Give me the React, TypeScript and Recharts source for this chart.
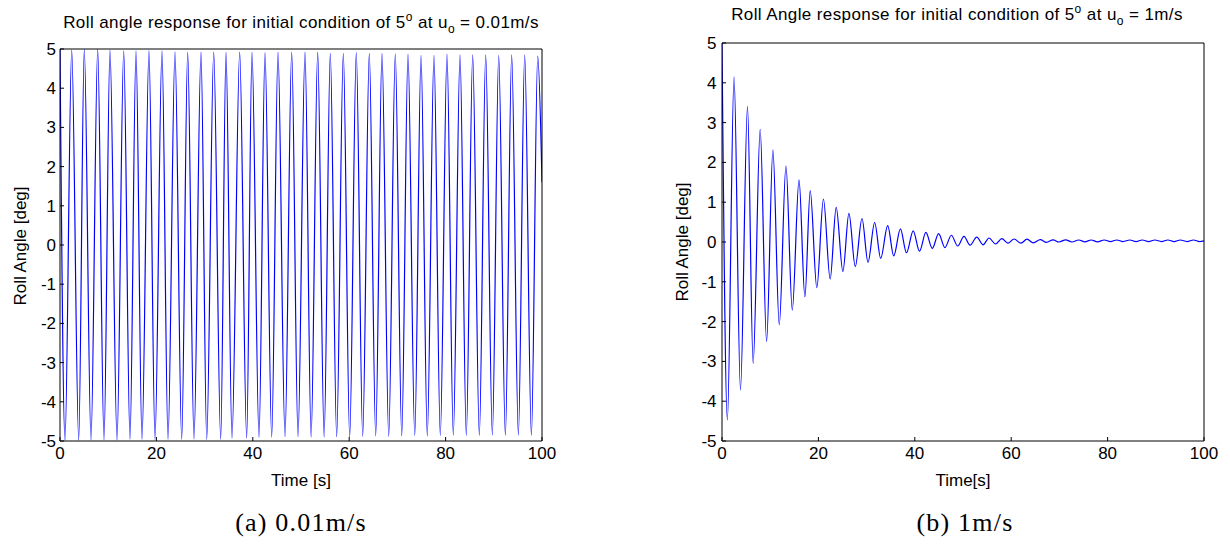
import React from 'react';
import { LineChart, Line, XAxis, YAxis } from 'recharts';

// ---- tick labels ----
const xTicks = [0, 20, 40, 60, 80, 100];
const yTicks = [-5, -4, -3, -2, -1, 0, 1, 2, 3, 4, 5];

// ---- (a) u0 = 0.01 m/s : extrema of the roll angle (time [s], angle [deg]) ----
const lowSpeedTimes = [
  0, 1.04, 2.43, 3.88, 5.04, 6.43, 7.82, 9.13, 10.37, 11.83,
  13.22, 14.52, 15.77, 17.01, 18.46, 19.71, 21.16, 22.41, 23.86, 25.25,
  26.49, 27.8, 29.25, 30.44, 31.89, 33.34, 34.44, 35.68, 37.28, 38.73,
  39.83, 41.29, 42.53, 43.92, 45.23, 46.68, 48.07, 49.38, 50.83, 52.1,
  53.46, 54.8, 56.08, 57.4, 58.78, 60.1, 61.47, 62.8, 64.17, 65.5,
  66.8, 68.2, 69.56, 70.9, 72.2, 73.6, 74.9, 76.2, 77.59, 78.9,
  80.29, 81.6, 82.99, 84.3, 85.62, 87.0, 88.32, 89.7, 91.02, 92.4,
  93.71, 95.1, 96.41, 97.8, 99.11, 100,
];
const lowSpeedAngles = [
  5, -4.98, 4.97, -4.98, 5.0, -4.98, 5.0, -4.98, 4.97, -4.98,
  4.95, -4.96, 4.95, -4.96, 4.96, -4.96, 4.95, -4.96, 4.93, -4.96,
  4.92, -4.95, 4.92, -4.96, 4.92, -4.96, 4.92, -4.93, 4.92, -4.93,
  4.92, -4.91, 4.91, -4.9, 4.92, -4.89, 4.92, -4.89, 4.92, -4.9,
  4.92, -4.9, 4.89, -4.89, 4.89, -4.9, 4.91, -4.88, 4.89, -4.87,
  4.89, -4.88, 4.87, -4.87, 4.87, -4.86, 4.84, -4.87, 4.84, -4.86,
  4.87, -4.85, 4.85, -4.86, 4.85, -4.86, 4.85, -4.85, 4.84, -4.86,
  4.85, -4.85, 4.85, -4.86, 4.82, 1.6,
];

// ---- (b) u0 = 1 m/s : extrema of the roll angle (time [s], angle [deg]) ----
const highSpeedTimes = [
  0, 1.12, 2.5, 3.83, 5.29, 6.46, 7.92, 9.25, 10.56, 11.88,
  13.27, 14.58, 15.98, 17.2, 18.3, 19.67, 21.04, 22.44, 23.69, 25.08,
  26.33, 27.65, 29.04, 30.29, 31.67, 32.92, 34.38, 35.63, 37.02, 38.27,
  39.67, 40.98, 42.3, 43.63, 44.94, 46.25, 47.58, 48.9, 50.2, 51.46,
  52.85, 54.17, 55.4, 56.75, 58.06, 59.31, 60.6, 62.02, 63.27, 64.58,
  66.04, 67.3, 68.7, 69.9, 71.3, 72.6, 74.0, 75.3, 76.6, 77.9,
  79.3, 80.6, 81.9, 83.2, 84.6, 85.9, 87.2, 88.5, 89.8, 91.2,
  92.5, 93.8, 95.1, 96.5, 97.8, 99.1, 100,
];
const highSpeedAngles = [
  5, -4.47, 4.15, -3.72, 3.41, -3.05, 2.83, -2.5, 2.31, -2.08,
  1.91, -1.71, 1.56, -1.38, 1.29, -1.15, 1.08, -0.93, 0.87, -0.74,
  0.72, -0.62, 0.59, -0.51, 0.49, -0.41, 0.41, -0.35, 0.33, -0.27,
  0.28, -0.23, 0.24, -0.16, 0.21, -0.14, 0.17, -0.1, 0.14, -0.08,
  0.12, -0.07, 0.1, -0.05, 0.085, -0.03, 0.075, -0.03, 0.07, -0.02,
  0.06, -0.01, 0.055, 0.0, 0.055, 0.0, 0.05, 0.005, 0.05, 0.005,
  0.05, 0.01, 0.05, 0.01, 0.05, 0.01, 0.05, 0.01, 0.05, 0.01,
  0.05, 0.01, 0.05, 0.01, 0.05, 0.01, 0.03,
];

const lowSpeedData = lowSpeedTimes.map((t, i) => ({ t, v: lowSpeedAngles[i] }));
const highSpeedData = highSpeedTimes.map((t, i) => ({ t, v: highSpeedAngles[i] }));

const SANS = '"Liberation Sans", Arial, Helvetica, sans-serif';
const SERIF = '"Liberation Serif", "Times New Roman", serif';
const tickStyle = { fontSize: 17, fill: '#000', fontFamily: SANS };
const axisLine = { stroke: '#000', strokeWidth: 1 };
const tickLine = { stroke: '#000', strokeWidth: 1 };

function axes(yMargin: number) {
  return [
    <XAxis
      key="xb"
      dataKey="t"
      type="number"
      domain={[0, 100]}
      ticks={xTicks}
      interval={0}
      height={1}
      tickSize={-4}
      tickMargin={10}
      axisLine={axisLine}
      tickLine={tickLine}
      tick={tickStyle}
      allowDataOverflow
    />,
    <XAxis
      key="xt"
      xAxisId="top"
      orientation="top"
      type="number"
      domain={[0, 100]}
      ticks={xTicks}
      interval={0}
      height={1}
      tickSize={-4}
      axisLine={axisLine}
      tickLine={tickLine}
      tick={false}
      allowDataOverflow
    />,
    <YAxis
      key="yl"
      type="number"
      domain={[-5, 5]}
      ticks={yTicks}
      interval={0}
      width={1}
      tickSize={-4}
      tickMargin={yMargin}
      axisLine={axisLine}
      tickLine={tickLine}
      tick={tickStyle}
      allowDataOverflow
    />,
    <YAxis
      key="yr"
      yAxisId="right"
      orientation="right"
      type="number"
      domain={[-5, 5]}
      ticks={yTicks}
      interval={0}
      width={1}
      tickSize={-4}
      axisLine={axisLine}
      tickLine={tickLine}
      tick={false}
      allowDataOverflow
    />,
  ];
}

export default function App() {
  return (
    <div style={{ position: 'absolute', left: 0, top: 0, width: 1230, height: 544, background: '#fff', overflow: 'hidden' }}>
      <div style={{ position: 'absolute', left: 0, top: 0 }}>
        <LineChart width={600} height={480} data={lowSpeedData} margin={{ top: 48, right: 57, bottom: 38, left: 59 }}>
          {axes(8)}
          <Line
            type="monotone"
            dataKey="v"
            stroke="#0000ff"
            strokeWidth={1.2}
            dot={false}
            isAnimationActive={false}
          />
        </LineChart>
      </div>
      <div style={{ position: 'absolute', left: 660, top: 0 }}>
        <LineChart width={570} height={480} data={highSpeedData} margin={{ top: 42, right: 25, bottom: 38, left: 61 }}>
          {axes(9.5)}
          <Line
            type="monotone"
            dataKey="v"
            stroke="#0000ff"
            strokeWidth={1.2}
            dot={false}
            isAnimationActive={false}
          />
        </LineChart>
      </div>
      <svg
        width={1230}
        height={544}
        style={{ position: 'absolute', left: 0, top: 0, pointerEvents: 'none' }}
      >
        <g fontFamily={SANS} fill="#000">
          <text x={301} y={28} fontSize={17} textAnchor="middle" letterSpacing={0.4}>
            Roll angle response for initial condition of 5
            <tspan fontSize={12} dy={-7}>o</tspan>
            <tspan dy={7}> at u</tspan>
            <tspan fontSize={12} dy={5}>o</tspan>
            <tspan dy={-5}> = 0.01m/s</tspan>
          </text>
          <text x={957} y={20} fontSize={17} textAnchor="middle" letterSpacing={0.4}>
            Roll Angle response for initial condition of 5
            <tspan fontSize={12} dy={-7}>o</tspan>
            <tspan dy={7}> at u</tspan>
            <tspan fontSize={12} dy={5}>o</tspan>
            <tspan dy={-5}> = 1m/s</tspan>
          </text>
          <text x={301} y={486} fontSize={17} textAnchor="middle">Time [s]</text>
          <text x={963} y={486} fontSize={17} textAnchor="middle">Time[s]</text>
          <text x={0} y={0} fontSize={17} textAnchor="middle" transform="translate(26,246) rotate(-90)">
            Roll Angle [deg]
          </text>
          <text x={0} y={0} fontSize={17} textAnchor="middle" transform="translate(688,242) rotate(-90)">
            Roll Angle [deg]
          </text>
        </g>
        <g fontFamily={SERIF} fill="#000">
          <text x={301} y={531} fontSize={26} textAnchor="middle" letterSpacing={1.2}>(a) 0.01m/s</text>
          <text x={965} y={531} fontSize={26} textAnchor="middle" letterSpacing={1.2}>(b) 1m/s</text>
        </g>
      </svg>
    </div>
  );
}
